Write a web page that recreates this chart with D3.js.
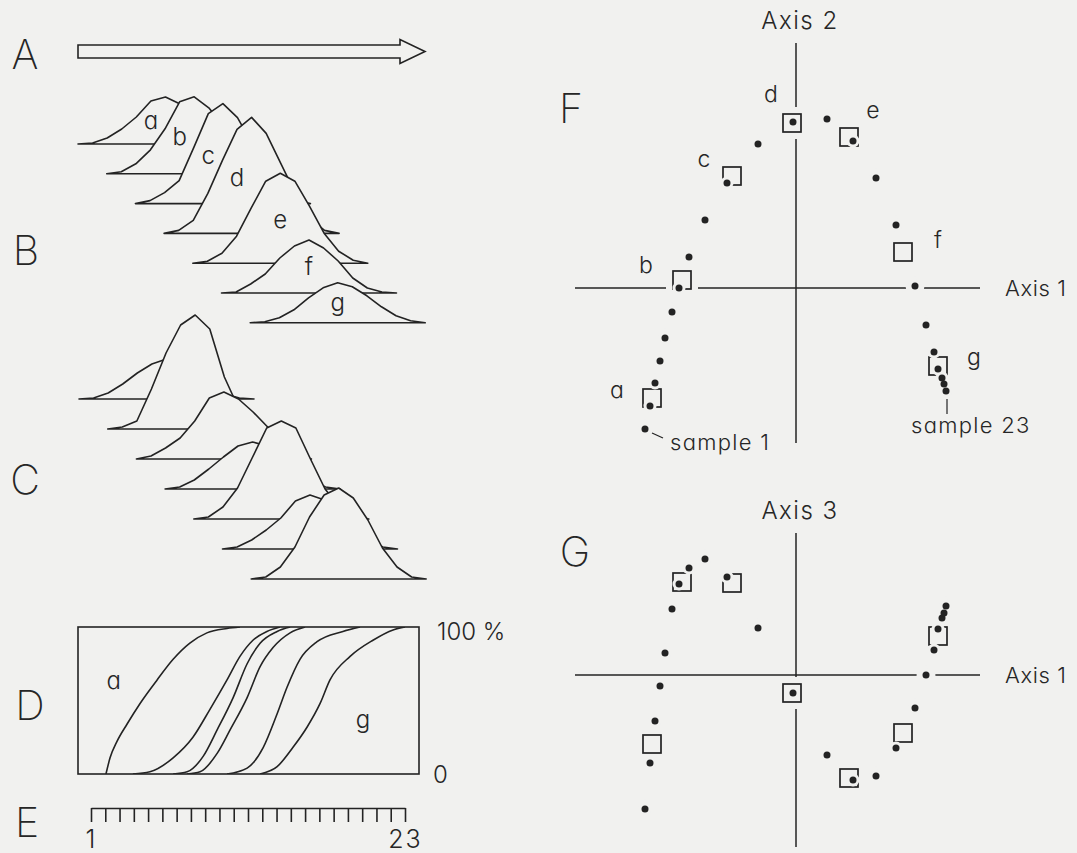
<!DOCTYPE html>
<html>
<head>
<meta charset="utf-8">
<script src="https://cdn.jsdelivr.net/npm/d3@7/dist/d3.min.js"></script>
<style>
  html, body { margin: 0; padding: 0; background: #f1f1ef; }
  svg { display: block; }
  text { font-family: Inter, "Open Sans", "DejaVu Sans", sans-serif; font-feature-settings: "cv11"; fill: #262626; }
</style>
</head>
<body>
<svg id="fig" width="1077" height="853" viewBox="0 0 1077 853"></svg>
<script>
// ---------- data ----------
const distLabels = ["a", "b", "c", "d", "e", "f", "g"];

// B: frequency polygons over 13 classes of the gradient, one per distribution a–g
const profilesB = [
  [0, 1, 6, 15, 27, 43, 47, 40, 30, 18, 8, 2, 0],
  [0, 2, 10, 24, 45, 72, 77, 66, 48, 28, 12, 3, 0],
  [0, 3, 11, 23, 56, 90, 100, 86, 60, 32, 13, 3, 0],
  [0, 3, 13, 40, 73, 104, 116, 100, 70, 40, 15, 3, 0],
  [0, 2, 10, 27, 55, 82, 90, 82, 57, 30, 12, 3, 0],
  [0, 1, 9, 19, 35, 47, 53, 45, 32, 15, 5, 1, 0],
  [0, 1, 5, 13, 25, 35, 40, 36, 27, 16, 7, 2, 0]
];

// C: the same classes, second set of profiles
const profilesC = [
  [0, 1, 6, 15, 26, 35, 40, 38, 28, 15, 5, 1, 0],
  [0, 2, 8, 40, 76, 104, 114, 100, 52, 20, 6, 1, 0],
  [0, 3, 11, 21, 38, 61, 67, 60, 47, 32, 16, 5, 0],
  [0, 2, 9, 20, 32, 43, 47, 43, 33, 20, 9, 2, 0],
  [0, 2, 12, 31, 61, 91, 98, 91, 60, 30, 12, 3, 0],
  [0, 2, 9, 19, 31, 48, 54, 49, 35, 21, 9, 2, 0],
  [0, 2, 12, 32, 62, 84, 91, 81, 59, 31, 12, 2, 0]
];

// D: cumulative curves, [position along gradient %, cumulative %]
const cumulativeD = [
  [[8.2, 0], [9.4, 11], [11.4, 22], [14.4, 34], [18.2, 48], [23.2, 64], [27.9, 78], [32.8, 89], [37.8, 96], [43.7, 99], [47.5, 100]],
  [[16.1, 0], [21.1, 1.5], [27.9, 11], [33.7, 25], [38.7, 44], [43.7, 64], [47.5, 80], [51.3, 91], [55.4, 97], [59.2, 100]],
  [[27.9, 0], [32.0, 1.5], [36.7, 12], [40.8, 30], [45.5, 52], [49.6, 75], [53.4, 89], [58.4, 97], [62.2, 100]],
  [[32.0, 0], [35.8, 1.5], [40.8, 14], [44.6, 30], [49.6, 52], [53.4, 73], [57.2, 86], [62.2, 96], [66.6, 100]],
  [[43.7, 0], [49.6, 4], [54.3, 18], [58.4, 41], [61.3, 59], [65.1, 78], [70.1, 90], [77.7, 97], [82.7, 100]],
  [[53.4, 0], [58.4, 5], [63.0, 18], [67.2, 32], [71.0, 48], [73.9, 64], [79.8, 80], [86.5, 91], [92.4, 98], [95.9, 100]]
];
const cumulativeTags = ["a", "g"];
const cumulativeTicks = ["100 %", "0"];

// E: sample sequence
const sampleNumbers = [1, 2, 3, 4, 5, 6, 7, 8, 9, 10, 11, 12, 13, 14, 15, 16, 17, 18, 19, 20, 21, 22, 23];

// F, G: ordination scores of samples 1–23
const axis1Scores = [-1.51, -1.46, -1.41, -1.36, -1.31, -1.24, -1.17, -1.07, -0.91, -0.69, -0.38, -0.03,
                     0.31, 0.57, 0.80, 1.00, 1.19, 1.30, 1.38, 1.42, 1.46, 1.48, 1.50];
const axis2Scores = [-1.41, -1.18, -0.95, -0.73, -0.50, -0.24, 0.00, 0.31, 0.68, 1.05, 1.44, 1.66,
                     1.69, 1.47, 1.10, 0.63, 0.02, -0.37, -0.64, -0.81, -0.90, -0.96, -1.03];
const axis3Scores = [-1.34, -0.88, -0.46, -0.11, 0.22, 0.66, 0.91, 1.07, 1.16, 0.98, 0.47, -0.18,
                     -0.80, -1.05, -1.01, -0.73, -0.33, 0.00, 0.25, 0.46, 0.57, 0.62, 0.69];

// F, G: scores of the distributions a–g
const centroidAxis1 = [-1.44, -1.14, -0.64, -0.04, 0.53, 1.07, 1.42];
const centroidAxis2 = [-1.10, 0.08, 1.12, 1.65, 1.51, 0.36, -0.78];
const centroidAxis3 = [-0.69, 0.93, 0.92, -0.18, -1.03, -0.58, 0.39];

const panelLetters = ["A", "B", "C", "D", "E", "F", "G"];

// ---------- drawing ----------
const INK = "#232323", BG = "#f1f1ef", LW = 1.6;
const svg = d3.select("#fig");
svg.append("rect").attr("width", 1077).attr("height", 853).attr("fill", BG);

// panel letters
const letterPos = [[25, 69], [26, 265], [25, 494], [30, 720], [27, 837], [571, 123], [575, 566]];
svg.append("g").selectAll("text").data(panelLetters).join("text")
  .attr("x", (d, i) => letterPos[i][0]).attr("y", (d, i) => letterPos[i][1])
  .attr("text-anchor", "middle").attr("font-size", 41).attr("font-weight", 200)
  .text(d => d);

// A: gradient arrow
{
  const x0 = 78, x1 = 400, tip = 425, mid = 51.5, shaft = 6.5, head = 12;
  const p = d3.path();
  p.moveTo(x0, mid - shaft); p.lineTo(x1, mid - shaft); p.lineTo(x1, mid - head);
  p.lineTo(tip, mid); p.lineTo(x1, mid + head); p.lineTo(x1, mid + shaft);
  p.lineTo(x0, mid + shaft); p.closePath();
  svg.append("path").attr("d", p.toString()).attr("fill", "none")
    .attr("stroke", INK).attr("stroke-width", LW).attr("stroke-linejoin", "miter");
}

// B and C: stacked frequency polygons, drawn back to front
function stack(profiles, left0, base0, stepX, stepY, withLabels) {
  const g = svg.append("g");
  const cls = d3.scaleLinear().domain([0, profiles[0].length - 1]).range([0, 175]);
  const hgt = d3.scaleLinear().domain([0, 100]).range([0, -100]);
  profiles.forEach((prof, k) => {
    const ox = left0 + stepX * k, oy = base0 + stepY * k;
    const line = d3.line().x((d, i) => ox + cls(i)).y(d => oy + hgt(d));
    g.append("path").attr("d", line(prof) + "Z")
      .attr("fill", BG).attr("stroke", INK).attr("stroke-width", LW)
      .attr("stroke-linejoin", "round");
    if (withLabels) {
      const at = k < 4 ? 5 : 6;
      g.append("text")
        .attr("x", ox + cls(at)).attr("y", oy + hgt(d3.max(prof) * 0.47) + 7)
        .attr("text-anchor", "middle").attr("font-size", 24).attr("font-weight", 300)
        .text(distLabels[k]);
    }
  });
}
stack(profilesB, 78, 144, 28.7, 29.8, true);
stack(profilesC, 79, 399, 28.7, 30, false);

// D: cumulative curves in a frame
{
  const gx = d3.scaleLinear().domain([0, 100]).range([78, 419]);
  const gy = d3.scaleLinear().domain([0, 100]).range([774, 627]);
  const g = svg.append("g");
  g.append("clipPath").attr("id", "dclip").append("rect")
    .attr("x", gx(0)).attr("y", gy(100)).attr("width", gx(100) - gx(0)).attr("height", gy(0) - gy(100));
  const line = d3.line().x(d => gx(d[0])).y(d => gy(d[1])).curve(d3.curveMonotoneX);
  g.append("g").attr("clip-path", "url(#dclip)").selectAll("path").data(cumulativeD).join("path")
    .attr("d", line).attr("fill", "none").attr("stroke", INK).attr("stroke-width", LW);
  g.append("rect").attr("x", gx(0)).attr("y", gy(100))
    .attr("width", gx(100) - gx(0)).attr("height", gy(0) - gy(100))
    .attr("fill", "none").attr("stroke", INK).attr("stroke-width", LW);
  g.append("text").attr("x", gx(10.5)).attr("y", gy(58)).attr("text-anchor", "middle")
    .attr("font-size", 24).attr("font-weight", 300).text(cumulativeTags[0]);
  g.append("text").attr("x", gx(83.6)).attr("y", gy(31)).attr("text-anchor", "middle")
    .attr("font-size", 24).attr("font-weight", 300).text(cumulativeTags[1]);
  g.append("text").attr("x", gx(100) + 18).attr("y", gy(100) + 13)
    .attr("font-size", 24).attr("font-weight", 300).text(cumulativeTicks[0]);
  g.append("text").attr("x", gx(100) + 14).attr("y", gy(0) + 9)
    .attr("font-size", 24).attr("font-weight", 300).text(cumulativeTicks[1]);
}

// E: sample ruler
{
  const ruler = d3.scaleLinear().domain([sampleNumbers[0], sampleNumbers[sampleNumbers.length - 1]]).range([91, 405]);
  const first = sampleNumbers[0], last = sampleNumbers[sampleNumbers.length - 1];
  const ax = d3.axisBottom(ruler).tickValues(sampleNumbers).tickSize(14).tickSizeOuter(0).tickPadding(8)
    .tickFormat(d => (d === first || d === last) ? String(d) : "");
  const g = svg.append("g").attr("transform", "translate(0,808)").call(ax);
  g.attr("font-size", 25).attr("font-family", null);
  g.selectAll("path, line").attr("stroke", INK).attr("stroke-width", LW);
  g.selectAll("text").attr("font-weight", 300).attr("letter-spacing", 2);
}

// F and G: ordination diagrams
const ax1 = d3.scaleLinear().domain([-2.21, 1.84]).range([575, 980]);
const yF = d3.scaleLinear().domain([2.45, -1.55]).range([43, 443]);
const yG = d3.scaleLinear().domain([1.42, -1.72]).range([533, 847]);

function ordination(yScale, sampleY, centroidY, vTitle) {
  const g = svg.append("g");
  const sx = ax1, sy = yScale;
  const [xl, xr] = sx.range(), [yt, yb] = sy.range();
  // axes
  g.append("line").attr("x1", xl).attr("x2", xr).attr("y1", sy(0)).attr("y2", sy(0))
    .attr("stroke", INK).attr("stroke-width", 1.5);
  g.append("line").attr("x1", sx(0)).attr("x2", sx(0)).attr("y1", yt).attr("y2", yb)
    .attr("stroke", INK).attr("stroke-width", 1.5);
  const pts = axis1Scores.map((v, i) => [sx(v), sy(sampleY[i])]);
  const cen = centroidAxis1.map((v, i) => [sx(v), sy(centroidY[i])]);
  const half = 9;
  // clear the axes around every mark
  g.append("g").selectAll("circle").data(pts).join("circle")
    .attr("cx", d => d[0]).attr("cy", d => d[1]).attr("r", 9.5).attr("fill", BG);
  g.append("g").selectAll("rect").data(cen).join("rect")
    .attr("x", d => d[0] - half - 7).attr("y", d => d[1] - half - 7)
    .attr("width", 2 * half + 14).attr("height", 2 * half + 14).attr("fill", BG);
  // squares for the distributions
  g.append("g").selectAll("rect").data(cen).join("rect")
    .attr("x", d => d[0] - half).attr("y", d => d[1] - half)
    .attr("width", 2 * half).attr("height", 2 * half)
    .attr("fill", "none").attr("stroke", INK).attr("stroke-width", 1.7);
  // samples (each sits in a small cleared ring)
  g.append("g").selectAll("circle").data(pts).join("circle")
    .attr("cx", d => d[0]).attr("cy", d => d[1]).attr("r", 6.5).attr("fill", BG);
  g.append("g").selectAll("circle").data(pts).join("circle")
    .attr("cx", d => d[0]).attr("cy", d => d[1]).attr("r", 3.5).attr("fill", INK);
  // axis titles
  g.append("text").attr("x", sx(0) + 4).attr("y", yt - 14).attr("text-anchor", "middle")
    .attr("font-size", 24).attr("font-weight", 300).attr("letter-spacing", 1.5).text(vTitle);
  g.append("text").attr("x", xr + 25).attr("y", sy(0) + 8)
    .attr("font-size", 22).attr("font-weight", 300).attr("letter-spacing", 0.6).text("Axis 1");
  return { g, pts, cen };
}

const F = ordination(yF, axis2Scores, centroidAxis2, "Axis 2");
const G = ordination(yG, axis3Scores, centroidAxis3, "Axis 3");

// letters beside the squares in F
const nudge = [[-35, 0], [-36, -7], [-28, -9], [-21, -21], [24, -19], [35, -4], [36, -1]];
F.g.append("g").selectAll("text").data(distLabels).join("text")
  .attr("x", (d, i) => F.cen[i][0] + nudge[i][0]).attr("y", (d, i) => F.cen[i][1] + nudge[i][1])
  .attr("text-anchor", "middle").attr("font-size", 23).attr("font-weight", 300).text(d => d);

// first and last sample captions in F
{
  const p1 = F.pts[0], pN = F.pts[F.pts.length - 1];
  F.g.append("line").attr("x1", p1[0] + 7).attr("y1", p1[1] + 4).attr("x2", p1[0] + 18).attr("y2", p1[1] + 9)
    .attr("stroke", INK).attr("stroke-width", 1.2);
  F.g.append("text").attr("x", p1[0] + 25).attr("y", p1[1] + 21)
    .attr("font-size", 22).attr("font-weight", 300).attr("letter-spacing", 1.3)
    .text("sample " + sampleNumbers[0]);
  F.g.append("line").attr("x1", pN[0] + 1).attr("y1", pN[1] + 8).attr("x2", pN[0] + 1).attr("y2", pN[1] + 23)
    .attr("stroke", INK).attr("stroke-width", 1.2);
  F.g.append("text").attr("x", pN[0] - 35).attr("y", pN[1] + 42)
    .attr("font-size", 22).attr("font-weight", 300).attr("letter-spacing", 1.3)
    .text("sample " + sampleNumbers[sampleNumbers.length - 1]);
}
</script>
</body>
</html>
